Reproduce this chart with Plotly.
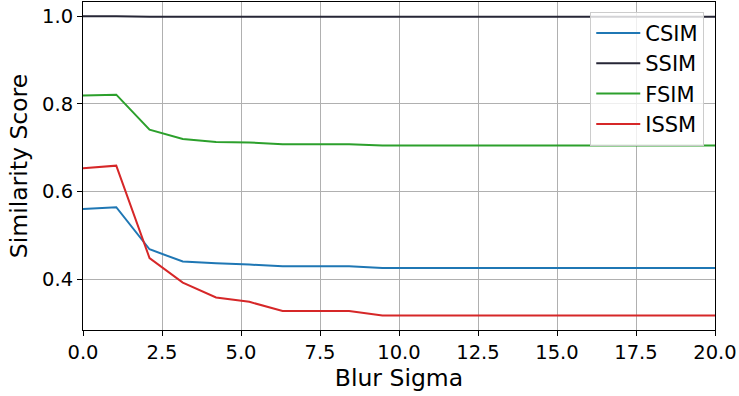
import numpy as np
import plotly.graph_objects as go

blur_sigma = [round(v, 4) for v in np.linspace(0, 20, 20)]
csim = [0.560, 0.564, 0.468, 0.440, 0.436, 0.433, 0.429, 0.429, 0.429, 0.425,
        0.425, 0.425, 0.425, 0.425, 0.425, 0.425, 0.425, 0.425, 0.425, 0.425]
ssim = [1.000, 1.000, 0.999, 0.999, 0.999, 0.999, 0.999, 0.999, 0.999, 0.999,
        0.999, 0.999, 0.999, 0.999, 0.999, 0.999, 0.999, 0.999, 0.999, 0.999]
fsim = [0.819, 0.821, 0.741, 0.720, 0.713, 0.712, 0.708, 0.708, 0.708, 0.705,
        0.705, 0.705, 0.705, 0.705, 0.705, 0.705, 0.705, 0.705, 0.705, 0.705]
issm = [0.653, 0.659, 0.448, 0.392, 0.358, 0.348, 0.327, 0.327, 0.327, 0.317,
        0.317, 0.317, 0.317, 0.317, 0.317, 0.317, 0.317, 0.317, 0.317, 0.317]

series = [("CSIM", csim, "#1f77b4"), ("SSIM", ssim, "#262636"),
          ("FSIM", fsim, "#2ca02c"), ("ISSM", issm, "#d62728")]

fig = go.Figure()
for name, vals, col in series:
    fig.add_trace(go.Scatter(x=blur_sigma, y=vals, mode="lines", name=name,
                             line=dict(color=col, width=2, simplify=False)))

font = "DejaVu Sans"
axis_common = dict(showgrid=True, gridcolor="#b0b0b0", gridwidth=1,
                   showline=True, linecolor="black", linewidth=1, mirror=True,
                   ticks="outside", ticklen=5, tickcolor="black",
                   tickfont=dict(family=font, size=19.5, color="black"),
                   zeroline=False, automargin=False)

fig.update_layout(
    width=739, height=396,
    margin=dict(l=83, r=24, t=2, b=66),
    paper_bgcolor="white", plot_bgcolor="white",
    font=dict(family=font, color="black"),
    xaxis=dict(range=[0, 20], tickvals=[0, 2.5, 5, 7.5, 10, 12.5, 15, 17.5, 20],
               ticktext=["0.0", "2.5", "5.0", "7.5", "10.0", "12.5", "15.0", "17.5", "20.0"],
               title=dict(text="Blur Sigma", font=dict(family=font, size=23.5), standoff=4),
               **axis_common),
    yaxis=dict(range=[0.2837, 1.0326], tickvals=[0.4, 0.6, 0.8, 1.0],
               ticktext=["0.4", "0.6", "0.8", "1.0"],
               title=dict(text="Similarity Score", font=dict(family=font, size=23.5), standoff=7),
               **axis_common),
    legend=dict(x=0.983, y=0.97, xanchor="right", yanchor="top",
                bgcolor="rgba(255,255,255,0.8)", bordercolor="#cccccc", borderwidth=1,
                font=dict(family=font, size=21, color="black"),
                tracegroupgap=0, itemwidth=44),
    showlegend=True,
)

fig.write_html("out.html", config={"displayModeBar": False},
               post_script="document.body.style.margin='0px';document.body.style.padding='0px';")
